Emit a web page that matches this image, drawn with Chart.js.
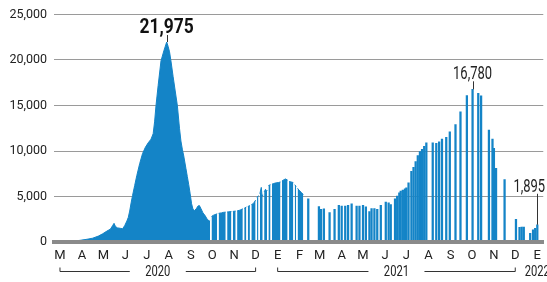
<!DOCTYPE html>
<html>
<head>
<meta charset="utf-8">
<script src="https://cdn.jsdelivr.net/npm/chart.js@4.4.0/dist/chart.umd.min.js"></script>
<style>
  html, body { margin: 0; padding: 0; background: #fff; }
  canvas { display: block; }
</style>
</head>
<body>
<canvas id="myChart" width="547" height="282"></canvas>
<script>
// day numbers count from 1 March 2020 (= day 0)
// continuous reporting, null = day without a report
const areaDays = [
  6, 20, 30, 42, 52, 60, 68, 74, 80, 85, 88, 90, 92, 95, 99, 102, 105, 108, 110, 112,
  114, 116, 119, 122, 126, 130, 134, 138, 142, 145, 147, 149, 152, 156, 160, 164, 166, 168, 170, 173,
  176, 179, 182, 184, 186, 188, 191, 193, 195, 197, 199, 201, 203, 206, 208, 210, 212, 215, 218, 221,
  224, 225, 226, 227, 230, 235, 236, 237, 241, 244, 247, 248, 249, 251, 255, 256, 257, 261, 262, 263,
  267, 271, 272, 273, 276, 277, 278, 281, 282, 283, 286, 289, 290, 291, 293, 294, 295, 297, 298, 299,
  300, 301, 303, 304, 305, 306, 307, 310, 311, 312, 314, 318, 321, 324, 325, 326, 329, 331, 334, 335,
  336, 339, 342, 343, 344, 346, 347, 348, 350, 353, 356
];
const areaCases = [
  20, 40, 90, 180, 300, 420, 650, 900, 1200, 1420, 1800, 2050, 1700, 1550, 1500, 1450, 1800, 2300, 2700, 3400,
  4300, 5100, 6200, 7300, 8600, 9700, 10400, 10900, 11300, 11900, 13200, 15000, 17200, 19900, 21000, 21975, 21500, 20900, 19900, 18200,
  16600, 15000, 12500, 11100, 10200, 9450, 8100, 7200, 6300, 5300, 4200, 3600, 3450, 3700, 3950, 4000, 3700, 3200, 2900, 2500,
  2300, 2350, null, 2800, 2950, 3100, null, 3150, 3200, 3260, 3280, null, 3300, 3320, 3340, null, 3360, 3400, null, 3420,
  3500, 3650, null, 3700, 3850, null, 3900, 4000, null, 4100, 4240, 4600, null, 4900, 5100, null, 5300, 6000, 5100, 5200,
  null, 5500, 5800, 5600, 5700, null, 6200, 6300, null, 6350, 6420, 6500, 6530, 6600, null, 6700, 6850, 6930, 6800, null,
  6640, 6600, 6530, null, 6300, 6100, null, 5900, 5700, 5470, 5220
];

// separate daily reports
const barDays = [
  363, 378, 381, 385, 393, 400, 406, 410, 415, 419, 424, 431, 435, 440, 444, 449, 452, 456, 460, 465,
  472, 476, 479, 485, 488, 491, 493, 496, 499, 501, 504, 508, 511, 514, 517, 520, 523, 526, 529, 538,
  543, 547, 551, 557, 562, 570, 577, 586, 594, 602, 606, 617, 622, 624, 627, 639, 655, 660, 663, 666,
  675, 679, 682, 685
];
const barCases = [
  4750, 3880, 3590, 3650, 3230, 3600, 4030, 3950, 3950, 4030, 4200, 3950, 3950, 4030, 3870, 3340, 3660, 3660, 3590, 4030,
  4390, 4300, 4100, 4750, 5040, 5400, 5600, 5700, 5850, 5950, 6500, 7760, 8200, 8850, 9500, 9930, 10190, 10500, 10910, 10910,
  10840, 11000, 11300, 11500, 12100, 12900, 14300, 16100, 16780, 16350, 16050, 12300, 11300, 10300, 8100, 6850, 2500, 1600, 1650, 1650,
  950, 1350, 1500, 1895
];

const monthLabels = ['M', 'A', 'M', 'J', 'J', 'A', 'S', 'O', 'N', 'D', 'E', 'F', 'M', 'A', 'M', 'J', 'J', 'A', 'S', 'O', 'N', 'D', 'E'];
const yTicks = [0, 5000, 10000, 15000, 20000, 25000];

const callouts = [
  { day: 164, value: 21975, text: '21,975' },
  { day: 594, value: 16780, text: '16,780' },
  { day: 685, value: 1895, text: '1,895' }
];

const FAMILY = "Roboto, 'Liberation Sans', sans-serif";
const BLUE = '#1484c7';

// month ticks sit in the middle of each month
const start = Date.UTC(2020, 2, 1);
const monthTicks = monthLabels.map((m, i) => (Date.UTC(2020, 2 + i, 15) - start) / 86400000);
const tickYears = monthLabels.map((m, i) => new Date(Date.UTC(2020, 2 + i, 15)).getUTCFullYear());

// narrow-looking text: squeeze horizontally
function squeezeText(ctx, text, x, y, sx) {
  ctx.save();
  ctx.translate(x, y);
  ctx.scale(sx, 1);
  ctx.fillText(text, 0, 0);
  ctx.restore();
}

const yearBrackets = {
  id: 'yearBrackets',
  afterDraw(chart) {
    const ctx = chart.ctx;
    const xs = chart.scales.x;
    const y = chart.chartArea.bottom + 29.5;
    ctx.save();
    ctx.strokeStyle = '#333';
    ctx.lineWidth = 1;
    ctx.fillStyle = '#222';
    ctx.font = '14px ' + FAMILY;
    ctx.textAlign = 'center';
    ctx.textBaseline = 'middle';
    [...new Set(tickYears)].forEach(yr => {
      const idx = [];
      tickYears.forEach((t, i) => { if (t === yr) idx.push(i); });
      const x1 = xs.getPixelForValue(monthTicks[idx[0]]);
      const x2 = xs.getPixelForValue(monthTicks[idx[idx.length - 1]]);
      const mid = (x1 + x2) / 2;
      squeezeText(ctx, String(yr), mid, y + 1, 0.8);
      if (x2 - x1 > 60) {
        ctx.beginPath();
        ctx.moveTo(x1, y - 4); ctx.lineTo(x1, y); ctx.lineTo(mid - 28, y);
        ctx.moveTo(mid + 28, y); ctx.lineTo(x2, y); ctx.lineTo(x2, y - 4);
        ctx.stroke();
      }
    });
    ctx.restore();
  }
};

const calloutStyle = [
  { font: 'bold 20px ' + FAMILY, color: '#111', sx: 0.87, lift: 9, gap: 2, dx: 0 },
  { font: '18px ' + FAMILY, color: '#222', sx: 0.72, lift: 10, gap: 2, dx: 0 },
  { font: '18px ' + FAMILY, color: '#222', sx: 0.72, lift: 33, gap: 2, dx: -8 }
];

const calloutLabels = {
  id: 'calloutLabels',
  afterDatasetsDraw(chart) {
    const ctx = chart.ctx;
    const xs = chart.scales.x, ys = chart.scales.y;
    ctx.save();
    callouts.forEach((c, i) => {
      const st = calloutStyle[i];
      const x = xs.getPixelForValue(c.day);
      const y = ys.getPixelForValue(c.value);
      ctx.font = st.font;
      ctx.fillStyle = st.color;
      ctx.textAlign = 'center';
      ctx.textBaseline = 'alphabetic';
      squeezeText(ctx, c.text, x + st.dx, y - st.lift, st.sx);
      ctx.strokeStyle = '#333';
      ctx.lineWidth = 1;
      ctx.beginPath();
      ctx.moveTo(Math.round(x) + 0.5, y - st.lift + st.gap);
      ctx.lineTo(Math.round(x) + 0.5, y);
      ctx.stroke();
    });
    ctx.restore();
  }
};

const ctx = document.getElementById('myChart');
new Chart(ctx, {
  type: 'bar',
  data: {
    datasets: [
      {
        type: 'line',
        data: areaDays.map((d, i) => ({ x: d, y: areaCases[i] })),
        fill: 'origin',
        backgroundColor: BLUE,
        borderColor: BLUE,
        borderWidth: 1,
        pointRadius: 0,
        tension: 0,
        spanGaps: false
      },
      {
        type: 'bar',
        data: barDays.map((d, i) => ({ x: d, y: barCases[i] })),
        backgroundColor: BLUE,
        barThickness: 1.6
      }
    ]
  },
  options: {
    responsive: false,
    animation: false,
    devicePixelRatio: 1,
    layout: { padding: { top: 13, left: 0, right: 0, bottom: 0 } },
    plugins: { legend: { display: false }, tooltip: { enabled: false } },
    scales: {
      x: {
        type: 'linear',
        offset: false,
        min: 5.6,
        max: 693.4,
        afterBuildTicks: axis => { axis.ticks = monthTicks.map(v => ({ value: v })); },
        afterFit: s => { s.height = 40; },
        grid: { display: false, drawTicks: false },
        border: { display: true, color: '#8a8a8a', width: 4, z: 1 },
        ticks: {
          autoSkip: false,
          maxRotation: 0,
          padding: 6,
          color: '#222',
          font: { family: FAMILY, size: 13 },
          callback: (v, i) => monthLabels[i]
        }
      },
      y: {
        min: 0,
        max: 25000,
        afterBuildTicks: axis => { axis.ticks = yTicks.map(v => ({ value: v })); },
        afterFit: s => { s.width = 54; },
        grid: {
          drawTicks: false,
          color: '#9a9a9a',
          lineWidth: c => (c.tick && c.tick.value === 0 ? 0 : 1)
        },
        border: { display: false },
        ticks: {
          padding: 7,
          color: '#222',
          font: { family: FAMILY, size: 12.5 },
          callback: v => v.toLocaleString('en-US')
        }
      }
    }
  },
  plugins: [yearBrackets, calloutLabels]
});
</script>
</body>
</html>
